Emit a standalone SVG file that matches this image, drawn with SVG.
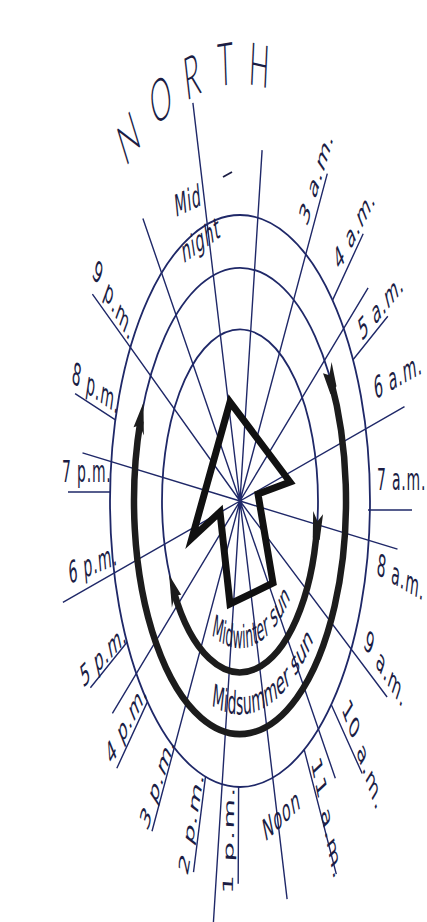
<svg xmlns="http://www.w3.org/2000/svg" width="427" height="922" viewBox="0 0 427 922">
<defs>
<style>
.ln{stroke:#1f2868;stroke-width:1.4;fill:none;vector-effect:non-scaling-stroke}
.ring{stroke:#1f2868;stroke-width:1.8;fill:none;vector-effect:non-scaling-stroke}
.thick{stroke:#1c1c1c;stroke-width:6.5;fill:none;vector-effect:non-scaling-stroke}
.lbl{font-family:"DejaVu Sans",sans-serif;font-size:14px;fill:#1b1d44;letter-spacing:0.8px}
.big{font-family:Lato,"Liberation Sans",sans-serif;font-weight:300;font-size:27px;fill:#1b1d44}
.arc{font-family:"DejaVu Sans",sans-serif;font-size:14.5px;fill:#1b1d44}
</style>
<marker id="head" markerUnits="userSpaceOnUse" orient="auto" overflow="visible" markerWidth="20" markerHeight="20" refX="0" refY="0">
<path d="M -5 -5.5 L 9 0 L -5 5.5 L -2 0 Z" fill="#1c1c1c"/>
</marker>
<marker id="tail" markerUnits="userSpaceOnUse" orient="auto" overflow="visible" markerWidth="20" markerHeight="20" refX="0" refY="0">
<path d="M 5 -3.5 L -7 -5 L -3 0 L -7 5 L 5 3.5 Z" fill="#1c1c1c"/>
</marker>
<path id="pWinter" d="M -28.3 60.7 A 67 67 0 0 0 51.3 43.1"/>
<path id="pSummer" d="M -28.4 92.8 A 97 97 0 0 0 76.4 59.7"/>
</defs>
<rect width="427" height="922" fill="#ffffff"/>
<g id="diagram" transform="translate(240,501) scale(1,2.2)">
<g id="rings">
<circle class="ring" cx="0" cy="0" r="78"/>
<circle class="ring" cx="0" cy="0" r="106"/>
<circle class="ring" cx="0" cy="0" r="130"/>
</g>
<g id="connectors">
<path class="ln" d="M0 0L-47.1 -181.0M0 0L22.1 -159.5M0 0L87.3 -148.8M0 0L128.1 -96.9M0 0L164.5 -42.9M0 0L157.5 21.9M0 0L147.1 89.1M0 0L95.3 126.0M0 0L47.1 181.0M0 0L-27.5 198.1M0 0L-88.0 150.1M0 0L-127.6 96.5M0 0L-177.1 46.1M0 0L-157.5 -21.9M0 0L-147.6 -94.0M0 0L-97.1 -128.4"/>
<path class="ln" d="M92.6 -91.3L123.2 -121.5M113.0 -64.2L147.8 -84.0M128 4.1L172 4.1M91.3 92.6L122.2 123.9M64.2 113.0L96.3 169.6M-1.4 130L-1.8 174M-34.5 125.3L-46.5 168.7M-92.6 91.3L-123.2 121.5M-113.0 64.2L-149.6 84.9M-130 -4.1L-172 -4.1M-124.6 -36.9L-164.9 -48.8"/>
</g>
<g id="sunpaths">
<path class="thick" d="M 90.9 -54.6 A 106 106 0 1 1 -99.6 -36.3" marker-start="url(#tail)" marker-end="url(#head)"/>
<path class="thick" d="M 77.0 12.2 A 78 78 0 0 1 -66.1 41.3" stroke-width="6" marker-start="url(#tail)" marker-end="url(#head)"/>
<text class="arc"><textPath href="#pWinter" textLength="86" lengthAdjust="spacingAndGlyphs">Midwinter sun</textPath></text>
<text class="arc"><textPath href="#pSummer" textLength="112" lengthAdjust="spacingAndGlyphs">Midsummer sun</textPath></text>
</g>
<g id="north">
<text class="big" transform="rotate(-34) translate(0,-200)" text-anchor="middle" dominant-baseline="central">N</text>
<text class="big" transform="rotate(-23.5) translate(0,-200)" text-anchor="middle" dominant-baseline="central">O</text>
<text class="big" transform="rotate(-14) translate(0,-200)" text-anchor="middle" dominant-baseline="central">R</text>
<text class="big" transform="rotate(-4.2) translate(0,-200)" text-anchor="middle" dominant-baseline="central">T</text>
<text class="big" transform="rotate(5.6) translate(0,-200)" text-anchor="middle" dominant-baseline="central">H</text>
</g>
<g id="labels" text-anchor="middle" dominant-baseline="central">
<text class="lbl" transform="translate(-52,-136.4) rotate(-12)">Mid</text>
<text class="lbl" transform="translate(-39,-118.6) rotate(-18)">night</text>
<text class="lbl" transform="translate(76.5,-147.3) rotate(-56.6)">3 a.m.</text>
<text class="lbl" transform="translate(114.5,-123.8) rotate(-41)">4 a.m.</text>
<text class="lbl" transform="translate(141,-88.6) rotate(-29.4)">5 a.m.</text>
<text class="lbl" transform="translate(158,-56.8) rotate(-14.3)">6 a.m.</text>
<text class="lbl" x="137" y="-5" text-anchor="start" dominant-baseline="auto">7 a.m.</text>
<text class="lbl" transform="translate(161,34.8) rotate(14.5)">8 a.m.</text>
<text class="lbl" transform="translate(145.5,76.4) rotate(35.9)">9 a.m.</text>
<text class="lbl" transform="translate(123,115.4) rotate(53.2)">10 a.m.</text>
<text class="lbl" transform="translate(87,144.3) rotate(66.8)">11 a.m.</text>
<text class="lbl" transform="translate(41.5,142.8) rotate(-23.7)">Noon</text>
<text class="lbl" transform="translate(-11,154) rotate(-88)">1 p.m.</text>
<text class="lbl" transform="translate(-48.5,146) rotate(-70.4)">2 p.m.</text>
<text class="lbl" transform="translate(-82.5,127.5) rotate(-55.5)">3 p.m.</text>
<text class="lbl" transform="translate(-113.5,100.7) rotate(-41.8)">4 p.m.</text>
<text class="lbl" transform="translate(-136.5,70) rotate(-26)">5 p.m.</text>
<text class="lbl" transform="translate(-147,28.6) rotate(-10.5)">6 p.m.</text>
<text class="lbl" x="-178" y="-8.6" text-anchor="start" dominant-baseline="auto">7 p.m.</text>
<text class="lbl" transform="translate(-144,-51.1) rotate(17.4)">8 p.m.</text>
<text class="lbl" transform="translate(-126.5,-91.1) rotate(38.6)">9 p.m.</text>
</g>
</g>
<g id="tick"><path d="M223 177L232 172" stroke="#1b1d44" stroke-width="1.8" fill="none"/></g>
<g id="arrow"><polygon points="230,402 290,482 258,494 273,583 230,604 220,512 192,538" fill="none" stroke="#111111" stroke-width="7" stroke-linejoin="miter"/></g>
</svg>
